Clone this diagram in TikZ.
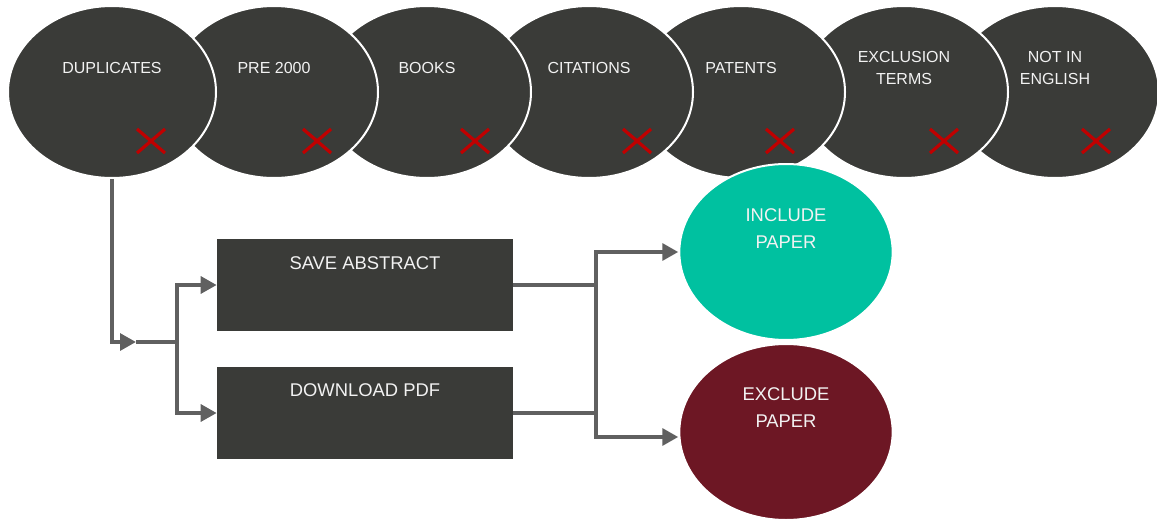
\documentclass[tikz,border=0pt]{standalone}
\usepackage{fontspec}
\setmainfont{Liberation Sans}
\usetikzlibrary{shapes.geometric}
\usetikzlibrary{arrows.meta, calc}
\definecolor{ovalgray}{HTML}{3A3B38}
\definecolor{inclgreen}{HTML}{00C1A0}
\definecolor{exclred}{HTML}{6D1724}
\definecolor{conngray}{HTML}{606060}
\definecolor{crossred}{HTML}{C00000}
\definecolor{txtwhite}{HTML}{F2F2F2}

\tikzset{
  topoval/.style={ellipse, fill=ovalgray, draw=white, line width=1.5pt,
    minimum width=156pt, minimum height=129pt, inner sep=0pt},
  decision/.style={ellipse, draw=white, line width=1.5pt,
    minimum width=160pt, minimum height=132pt, inner sep=0pt},
  stepbox/.style={rectangle, fill=ovalgray, minimum width=222pt,
    minimum height=69pt, inner sep=0pt},
  lbl/.style={text=txtwhite, align=center, font=\fontsize{12}{16.5}\selectfont},
  biglbl/.style={text=txtwhite, align=center, font=\fontsize{13.8}{20}\selectfont},
  conn/.style={draw=conngray, line width=3.6pt},
  flow/.style={conn, -{Triangle[length=12pt, width=12.5pt]}},
  crossmark/.style={draw=crossred, line width=2.4pt}
}

\begin{document}
\begin{tikzpicture}[x=0.75pt, y=-0.75pt]
    \useasboundingbox (0,0) rectangle (1157,518);

    % Filtri (ovali in alto, il primo sopra)
    \foreach \i/\x in {7/1055, 6/904, 5/741, 4/589, 3/427, 2/274, 1/112} {
        \node[topoval] (e\i) at (\x,92) {};
    }
    \foreach \i/\txt in {1/DUPLICATES, 2/PRE 2000, 3/BOOKS, 4/CITATIONS,
                         5/PATENTS, 6/{EXCLUSION\\TERMS}, 7/{NOT IN\\ENGLISH}} {
        \node[lbl] (t\i) at ($(e\i)+(0,-24)$) {\txt};
    }

    % Croci rosse
    \foreach \x in {151, 317, 475, 637, 780, 944, 1096} {
        \draw[crossmark] (\x-14,129) -- (\x+14,153) (\x-14,153) -- (\x+14,129);
    }

    % Blocchi
    \node[stepbox] (sa) at (365,285) {};
    \node[stepbox] (dp) at (365,413) {};
    \node[biglbl] (tsa) at ($(sa.north)+(0,24)$) {SAVE ABSTRACT};
    \node[biglbl] (tdp) at ($(dp.north)+(0,23)$) {DOWNLOAD PDF};

    % Esiti
    \node[decision, fill=inclgreen] (inc) at (786,252) {};
    \node[decision, fill=exclred] (exc) at (786,432) {};
    \node[biglbl] (tinc) at ($(inc)+(0,-23.5)$) {INCLUDE\\PAPER};
    \node[biglbl] (texc) at ($(exc)+(0,-24.5)$) {EXCLUDE\\PAPER};

    % Collegamenti
    \coordinate (tip) at (136,342);
    \coordinate (lbus) at (177,342);
    \coordinate (rbus) at (596,348);
    \draw[flow] (e1.south) |- (tip);
    \draw[conn] (tip) -- (lbus);
    \draw[flow] (lbus) |- (sa.west);
    \draw[flow] (lbus) |- (dp.west);
    \draw[conn] (sa.east) -- (sa.east -| rbus);
    \draw[conn] (dp.east) -- (dp.east -| rbus);
    \draw[flow] (rbus) |- (inc.west);
    \draw[flow] (rbus) |- ($(exc.west)+(0,5)$);
\end{tikzpicture}
\end{document}
